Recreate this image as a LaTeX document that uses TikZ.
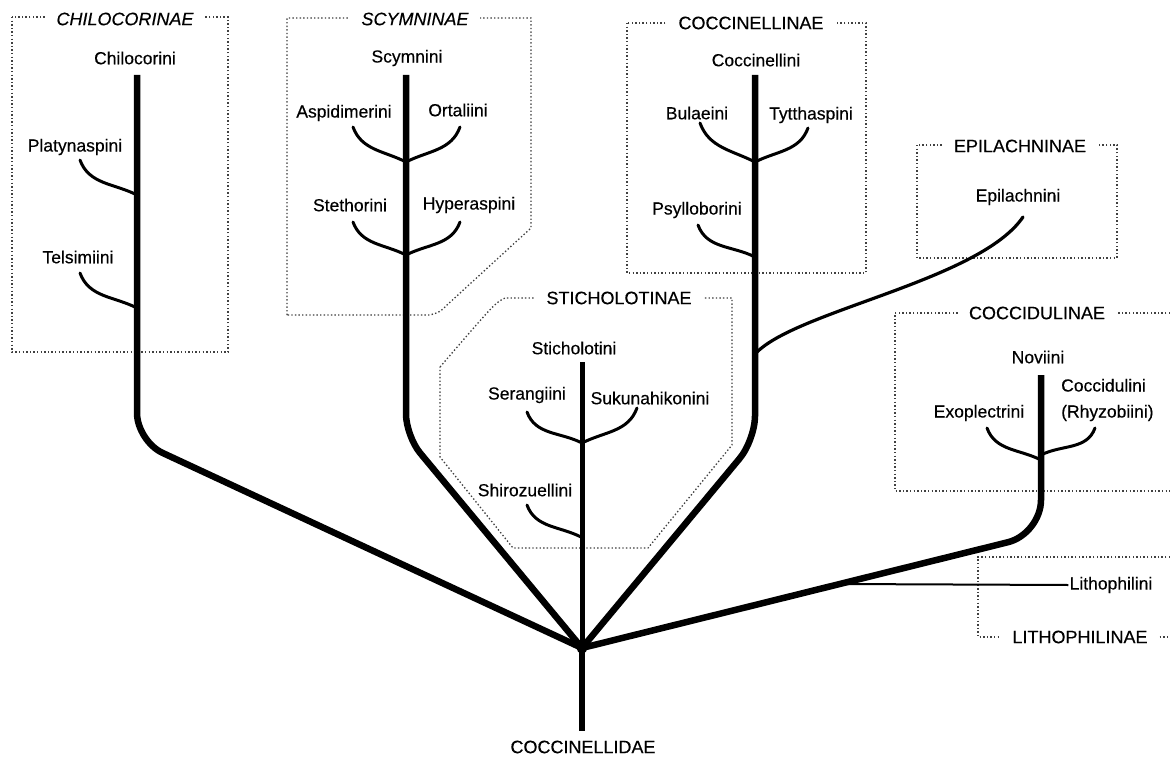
\documentclass[tikz,border=0pt]{standalone}
\usepackage{fontspec}
\setmainfont[FakeBold=0.35]{Liberation Sans}
\newfontfamily\grpfont[FakeBold=0.35]{Liberation Sans}
\begin{document}
\begin{tikzpicture}[x=1pt,y=-1pt,
  trunk/.style={line width=6.5pt, line join=round},
  twig/.style={line width=3pt, line cap=round},
  grpbox/.style={line width=1.3pt, dash pattern=on 1.4pt off 2.2pt, black!75},
  lab/.style={font=\fontsize{17.5}{26}\selectfont, inner sep=1pt},
  grp/.style={font=\grpfont\fontsize{18}{20}\selectfont, fill=white, inner xsep=11pt, inner ysep=2pt},
  lt/.style={out=-70, in=153},
  rt/.style={out=-110, in=27}
]
\useasboundingbox[fill=white] (0,0) rectangle (1170,760);

% group boxes
\draw[grpbox] (12,17) rectangle (228,352);
\draw[grpbox] (287,315) -- (287,18) -- (531,18) -- (531,228) -- (447,305) .. controls (440,312) .. (430,315) -- cycle;
\draw[grpbox] (627,23) rectangle (866,273);
\draw[grpbox] (917,145) rectangle (1117,258);
\draw[grpbox] (440,367) .. controls (495,303) .. (505,298) -- (732,298) -- (732,445) -- (648,548) -- (513,548) -- (440,457) -- cycle;
\draw[grpbox] (1170,313) -- (895,313) -- (895,491) -- (1170,491);
\draw[grpbox] (1170,557) -- (978,557) -- (978,637) -- (1170,637);

\node[grp, font=\grpfont\itshape\fontsize{18}{20}\selectfont] (chilocorinae) at (125,19) {CHILOCORINAE};
\node[grp, font=\grpfont\itshape\fontsize{18}{20}\selectfont] (scymninae) at (415,19) {SCYMNINAE};
\node[grp] (coccinellinae) at (751,23) {COCCINELLINAE};
\node[grp] (epilachninae) at (1020,146) {EPILACHNINAE};
\node[grp] (sticholotinae) at (619,298) {STICHOLOTINAE};
\node[grp] (coccidulinae) at (1037,313) {COCCIDULINAE};
\node[grp] (lithophilinae) at (1080,637) {LITHOPHILINAE};

% labels
\node[lab] (chilocorini) at (135,58) {Chilocorini};
\node[lab] (platynaspini) at (75,147) {Platynaspini};
\node[lab] (telsimiini) at (78,257) {Telsimiini};
\node[lab] (scymnini) at (407,58) {Scymnini};
\node[lab] (aspidimerini) at (344,113) {Aspidimerini};
\node[lab] (ortaliini) at (458,110) {Ortaliini};
\node[lab] (stethorini) at (350,205) {Stethorini};
\node[lab] (hyperaspini) at (469,205) {Hyperaspini};
\node[lab] (coccinellini) at (756,60) {Coccinellini};
\node[lab] (bulaeini) at (697,113) {Bulaeini};
\node[lab] (tytthaspini) at (811,115) {Tytthaspini};
\node[lab] (psylloborini) at (697,210) {Psylloborini};
\node[lab] (epilachnini) at (1018,197) {Epilachnini};
\node[lab] (sticholotini) at (574,348) {Sticholotini};
\node[lab] (serangiini) at (527,395) {Serangiini};
\node[lab] (sukunahikonini) at (650,398) {Sukunahikonini};
\node[lab] (shirozuellini) at (525,490) {Shirozuellini};
\node[lab] (noviini) at (1038,357) {Noviini};
\node[lab] (exoplectrini) at (979,413) {Exoplectrini};
\node[lab, anchor=west, align=left] (coccidulini) at (1060,400) {Coccidulini\\(Rhyzobiini)};
\node[lab] (lithophilini) at (1111,585) {Lithophilini};
\node[lab, font=\grpfont\fontsize{18}{20}\selectfont] (coccinellidae) at (583,747) {COCCINELLIDAE};

% coordinates
\coordinate (root) at (582,648);
\coordinate (rootend) at (582,731);
\coordinate (chiTop) at (137,75);
\coordinate (scyTop) at (406,75);
\coordinate (cocTop) at (755,75);
\coordinate (cdTop) at (1041,375);
\coordinate (stiTop) at (582,362);
\coordinate (epiJ) at (757,352);
\coordinate (epiTop) at (1023,217);
\coordinate (lithJ) at (840,584);

% trunks
\draw[trunk, rounded corners=28pt] (chiTop) -- (137,441) -- (root);
\draw[trunk, rounded corners=22pt] (scyTop) -- (406,436) -- (root);
\draw[trunk, rounded corners=24pt] (cocTop) -- (755,440) -- (root);
\draw[trunk, rounded corners=34pt] (cdTop) -- (1041,534) -- (root);
\draw[line width=5pt] (stiTop) -- (root);
\draw[trunk] (root) -- (rootend);
\fill (root) circle (5.5pt);
\draw[line width=3.2pt, line cap=round] (epiJ) .. controls (800,310) and (980,280) .. (epiTop);
\draw[line width=2pt] (lithJ) -- (lithophilini.west);

% twigs
\coordinate (jp) at (137,195); \coordinate (jt) at (137,308);
\draw[twig] (80,160) to[lt] (jp);
\draw[twig] (80,273) to[lt] (jt);
\coordinate (ja) at (406,162); \coordinate (jh) at (406,255);
\draw[twig] (353,127) to[lt] (ja);
\draw[twig] (460,127) to[rt] (ja);
\draw[twig] (353,222) to[lt] (jh);
\draw[twig] (460,222) to[rt] (jh);
\coordinate (jb) at (755,162); \coordinate (jps) at (755,257);
\draw[twig] (700,123) to[lt] (jb);
\draw[twig] (808,128) to[rt] (jb);
\draw[twig] (698,225) to[lt] (jps);
\coordinate (js) at (582,443); \coordinate (jsh) at (581,537);
\draw[twig] (527,412) to[lt] (js);
\draw[twig] (637,408) to[rt] (js);
\draw[twig] (527,505) to[lt] (jsh);
\coordinate (je) at (1041,460); \coordinate (jc) at (1041,455);
\draw[twig] (987,428) to[lt] (je);
\draw[twig] (1095,428) to[rt] (jc);
\end{tikzpicture}
\end{document}
